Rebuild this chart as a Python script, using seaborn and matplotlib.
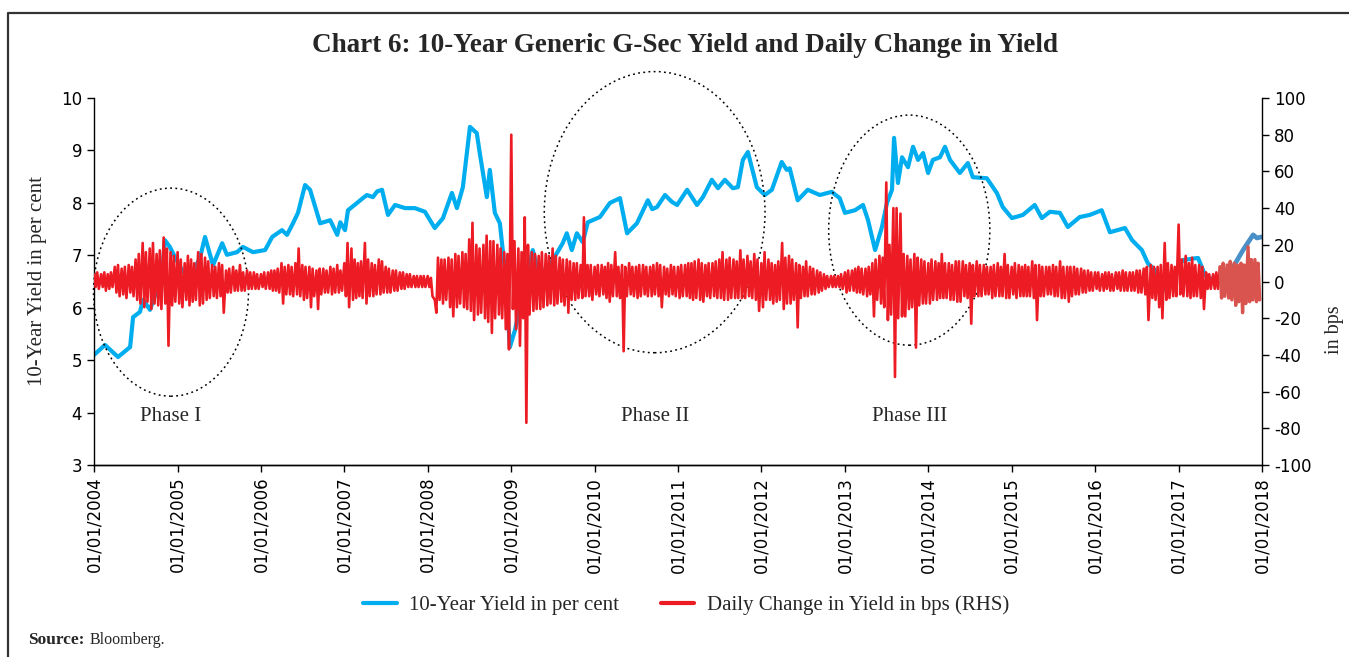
import numpy as np
import pandas as pd
import matplotlib
matplotlib.use('Agg')
import matplotlib.pyplot as plt
import matplotlib.dates as mdates
from matplotlib.patches import Ellipse
from matplotlib.lines import Line2D
import seaborn as sns

sns.set_style('white')
plt.rcParams['font.family'] = ['Liberation Serif', 'DejaVu Serif']
plt.rcParams['axes.unicode_minus'] = False

# 10-year yield (per cent)
yield_dates = [
    '2004-01-01', '2004-02-18', '2004-04-15', '2004-06-07', '2004-06-20', '2004-07-20',
    '2004-08-03', '2004-09-02', '2004-10-03', '2004-10-29', '2004-11-06', '2004-11-28',
    '2004-12-20', '2005-01-25', '2005-03-10', '2005-04-10', '2005-05-01', '2005-06-05',
    '2005-07-15', '2005-08-05', '2005-09-18', '2005-10-14', '2005-11-27', '2006-01-19',
    '2006-02-19', '2006-04-03', '2006-04-25', '2006-05-21', '2006-06-12', '2006-07-13',
    '2006-08-04', '2006-09-17', '2006-10-31', '2006-12-01', '2006-12-14', '2007-01-04',
    '2007-01-17', '2007-02-26', '2007-03-20', '2007-04-10', '2007-05-06', '2007-05-25',
    '2007-06-15', '2007-07-11', '2007-08-11', '2007-09-24', '2007-11-06', '2007-12-20',
    '2008-02-01', '2008-03-08', '2008-04-16', '2008-05-08', '2008-06-03', '2008-07-04',
    '2008-08-03', '2008-08-16', '2008-09-16', '2008-09-29', '2008-10-21', '2008-11-12',
    '2008-12-04', '2008-12-26', '2009-01-17', '2009-02-08', '2009-03-10', '2009-04-05',
    '2009-05-06', '2009-06-05', '2009-07-10', '2009-08-14', '2009-09-01', '2009-09-23',
    '2009-10-15', '2009-11-10', '2009-12-02', '2010-01-24', '2010-03-09', '2010-04-22',
    '2010-05-23', '2010-07-05', '2010-08-22', '2010-09-10', '2010-10-01', '2010-11-05',
    '2010-12-05', '2010-12-28', '2011-02-10', '2011-03-25', '2011-04-20', '2011-05-29',
    '2011-06-25', '2011-07-25', '2011-08-29', '2011-09-20', '2011-10-12', '2011-11-03',
    '2011-12-12', '2012-01-16', '2012-02-16', '2012-03-30', '2012-04-21', '2012-05-04',
    '2012-06-08', '2012-07-22', '2012-09-13', '2012-11-04', '2012-12-09', '2013-01-01',
    '2013-02-14', '2013-03-21', '2013-04-12', '2013-05-13', '2013-06-12', '2013-07-04',
    '2013-07-26', '2013-08-04', '2013-08-21', '2013-09-08', '2013-10-04', '2013-10-26',
    '2013-11-17', '2013-12-09', '2013-12-31', '2014-01-21', '2014-02-21', '2014-03-15',
    '2014-04-06', '2014-05-19', '2014-06-23', '2014-07-15', '2014-09-14', '2014-10-28',
    '2014-11-23', '2015-01-02', '2015-02-19', '2015-04-12', '2015-05-13', '2015-06-17',
    '2015-07-31', '2015-09-04', '2015-10-26', '2015-12-09', '2016-01-30', '2016-03-06',
    '2016-05-11', '2016-06-11', '2016-07-24', '2016-08-19', '2016-09-19', '2016-11-02',
    '2016-11-24', '2017-01-20', '2017-03-27', '2017-04-27', '2017-06-01', '2017-07-10',
    '2017-08-27', '2017-10-10', '2017-11-23', '2017-12-10', '2017-12-29',
]
yield_vals = [
    5.10, 5.29, 5.06, 5.25, 5.82, 5.92,
    6.15, 5.96, 6.34, 6.85, 7.29, 7.16,
    6.97, 6.68, 6.68, 6.97, 7.35, 6.81,
    7.23, 7.01, 7.06, 7.16, 7.06, 7.10,
    7.35, 7.48, 7.39, 7.61, 7.81, 8.34,
    8.25, 7.61, 7.67, 7.39, 7.63, 7.48,
    7.86, 8.00, 8.08, 8.15, 8.11, 8.22,
    8.25, 7.77, 7.96, 7.90, 7.90, 7.83,
    7.52, 7.71, 8.19, 7.90, 8.30, 9.45,
    9.33, 8.95, 8.11, 8.63, 7.81, 7.61,
    6.72, 5.25, 5.57, 6.01, 6.58, 7.10,
    6.58, 6.77, 6.97, 7.23, 7.42, 7.10,
    7.42, 7.25, 7.63, 7.73, 8.00, 8.09,
    7.42, 7.61, 8.05, 7.88, 7.92, 8.15,
    8.02, 7.96, 8.25, 7.96, 8.11, 8.44,
    8.28, 8.44, 8.28, 8.30, 8.82, 8.97,
    8.30, 8.15, 8.25, 8.78, 8.63, 8.66,
    8.05, 8.25, 8.15, 8.21, 8.09, 7.81,
    7.86, 7.96, 7.67, 7.10, 7.54, 8.00,
    8.25, 9.24, 8.38, 8.87, 8.68, 9.07,
    8.82, 8.95, 8.57, 8.82, 8.87, 9.07,
    8.82, 8.57, 8.76, 8.49, 8.47, 8.19,
    7.92, 7.71, 7.77, 7.96, 7.71, 7.83,
    7.81, 7.54, 7.73, 7.77, 7.86, 7.44,
    7.52, 7.29, 7.10, 6.85, 6.72, 6.34,
    6.49, 6.91, 6.95, 6.62, 6.53, 6.45,
    6.77, 7.10, 7.39, 7.33, 7.35,
]

# daily change in yield (bps): highest and lowest reading in each half-month
hi_2004 = [4, 5, 4, 5, 4, 5, 8, 9, 7, 8, 9, 8, 12, 15, 21, 16, 18, 21, 15, 17, 24, 18, 16, 14]
lo_2004 = [-3, -4, -3, -5, -4, -3, -6, -8, -7, -9, -6, -8, -10, -12, -14, -11, -15, -12, -13, -15, -12, -35, -13, -11]
hi_2005 = [16, 12, 10, 14, 12, 10, 16, 15, 13, 11, 9, 8, 10, 9, 6, 7, 8, 6, 9, 5, 6, 5, 5, 4]
lo_2005 = [-12, -14, -10, -13, -11, -10, -13, -12, -10, -9, -8, -9, -8, -17, -6, -6, -5, -5, -5, -5, -4, -4, -4, -4]
hi_2006 = [4, 5, 5, 6, 6, 7, 10, 8, 9, 8, 10, 18, 9, 8, 8, 7, 6, 7, 7, 6, 8, 7, 9, 6]
lo_2006 = [-3, -4, -4, -5, -5, -6, -12, -7, -7, -8, -7, -8, -10, -9, -14, -8, -15, -7, -6, -6, -7, -6, -6, -5]
hi_2007 = [10, 21, 18, 12, 10, 11, 21, 12, 10, 9, 12, 11, 8, 7, 6, 6, 5, 5, 4, 4, 3, 3, 3, 3]
lo_2007 = [-8, -14, -10, -9, -8, -9, -12, -8, -8, -7, -7, -6, -6, -6, -5, -5, -4, -4, -3, -3, -3, -3, -3, -3]
hi_2008 = [3, 2, -10, 13, 12, 12, 13, 12, 15, 14, 16, 15, 23, 32, 20, 18, 20, 25, 22, 22, 20, 18, 16, 15]
lo_2008 = [-3, -8, -17, -10, -12, -10, -14, -19, -14, -12, -14, -15, -16, -21, -18, -17, -20, -22, -28, -20, -18, -20, -26, -37]
hi_2009 = [80, 22, 18, 16, 35, 20, 16, 15, 14, 16, 15, 14, 18, 14, 13, 12, 12, 11, 10, 10, 9, 35, 9, 9]
lo_2009 = [-15, -26, -35, -20, -77, -18, -16, -15, -15, -14, -13, -12, -13, -12, -11, -13, -17, -10, -10, -9, -9, -8, -8, -10]
hi_2010 = [8, 9, 9, 8, 10, 9, 16, 8, 9, 8, 10, 8, 8, 9, 9, 8, 8, 9, 10, 9, 8, 7, 9, 8]
lo_2010 = [-7, -8, -7, -9, -11, -8, -8, -9, -38, -8, -7, -8, -9, -8, -7, -8, -8, -7, -8, -14, -7, -8, -7, -8]
hi_2011 = [8, 9, 9, 10, 10, 11, 12, 10, 9, 10, 10, 11, 12, 16, 12, 13, 12, 11, 17, 12, 14, 11, 15, 12]
lo_2011 = [-9, -8, -8, -9, -10, -9, -10, -11, -8, -9, -8, -9, -9, -10, -10, -9, -9, -9, -9, -9, -8, -9, -10, -16]
hi_2012 = [10, 16, 12, 10, 9, 11, 21, 13, 14, 12, 10, 9, 8, 11, 8, 7, 6, 5, 4, 3, 3, 3, 3, 4]
lo_2012 = [-14, -10, -10, -12, -11, -10, -15, -12, -12, -10, -25, -9, -8, -8, -7, -7, -6, -5, -4, -3, -3, -3, -3, -4]
hi_2013 = [5, 6, 6, 7, 8, 7, 7, 8, 10, 12, 14, 13, 54, 20, 40, 40, 37, 15, 14, 12, 15, 13, 12, 11]
lo_2013 = [-6, -5, -5, -6, -6, -7, -8, -7, -19, -10, -12, -14, -21, -18, -52, -20, -19, -19, -15, -14, -36, -13, -12, -12]
hi_2014 = [10, 12, 11, 10, 15, 10, 10, 9, 11, 11, 11, 9, 10, 9, 11, 9, 9, 8, 8, 9, 10, 8, 15, 9]
lo_2014 = [-12, -10, -10, -9, -9, -9, -10, -10, -11, -11, -8, -9, -23, -8, -8, -8, -7, -7, -9, -8, -8, -8, -9, -9]
hi_2015 = [8, 10, 9, 8, 9, 8, 11, 9, 9, 8, 8, 8, 9, 8, 11, 8, 8, 8, 8, 7, 7, 6, 6, 5]
lo_2015 = [-7, -9, -8, -8, -8, -8, -9, -21, -8, -8, -7, -7, -8, -8, -9, -9, -11, -8, -7, -7, -6, -6, -5, -5]
hi_2016 = [5, 5, 4, 5, 5, 4, 5, 5, 6, 5, 5, 5, 6, 6, 7, 8, 9, 8, 8, 9, 21, 10, 9, 8]
lo_2016 = [-4, -5, -5, -4, -5, -5, -4, -5, -5, -5, -5, -5, -6, -6, -7, -21, -9, -10, -14, -20, -10, -9, -8, -8]
hi_2017 = [31, 12, 14, 10, 13, 9, 9, 8, 5, 4, 4, 5, 8, 10, 9, 11, 10, 9, 10, 9, 19, 12, 12, 10]
lo_2017 = [-7, -8, -8, -9, -8, -8, -9, -15, -4, -4, -4, -4, -9, -8, -9, -10, -13, -11, -17, -12, -11, -10, -11, -10]

highs = (hi_2004 + hi_2005 + hi_2006 + hi_2007 + hi_2008 + hi_2009 + hi_2010
         + hi_2011 + hi_2012 + hi_2013 + hi_2014 + hi_2015 + hi_2016 + hi_2017)
lows = (lo_2004 + lo_2005 + lo_2006 + lo_2007 + lo_2008 + lo_2009 + lo_2010
        + lo_2011 + lo_2012 + lo_2013 + lo_2014 + lo_2015 + lo_2016 + lo_2017)
half_months = pd.date_range('2004-01-01', periods=len(highs), freq='SMS')

# zigzag: the high at the start of each half-month, the low a week later
chg = pd.concat([
    pd.DataFrame({'date': half_months, 'value': highs}),
    pd.DataFrame({'date': half_months + pd.Timedelta(days=7), 'value': lows}),
]).sort_values('date').reset_index(drop=True)

yld = pd.DataFrame({'date': pd.to_datetime(yield_dates), 'value': yield_vals})

# last few months are drawn in a slightly different shade in the original
red_split = pd.Timestamp('2017-07-01')

BLUE = '#00aeef'
BLUE2 = '#4a90c8'
RED = '#ed1c24'
RED2 = '#d9534f'

fig = plt.figure(figsize=(13.49, 6.57), dpi=100)
ax = fig.add_axes([0.0697, 0.2922, 0.8658, 0.5586])
ax2 = ax.twinx()

sns.lineplot(data=yld[yld['date'] <= pd.Timestamp('2017-08-27')], x='date', y='value',
             ax=ax, color=BLUE, lw=3.0)
sns.lineplot(data=yld[yld['date'] >= pd.Timestamp('2017-07-10')], x='date', y='value',
             ax=ax, color=BLUE2, lw=3.4)
sns.lineplot(data=chg[chg['date'] <= red_split], x='date', y='value', ax=ax2, color=RED, lw=1.9)
sns.lineplot(data=chg[chg['date'] >= red_split], x='date', y='value', ax=ax2, color=RED2, lw=2.4)

ax.set_xlim(pd.Timestamp('2004-01-01'), pd.Timestamp('2018-01-01'))
ax.set_ylim(3, 10)
ax2.set_ylim(-100, 100)
ax.set_yticks(range(3, 11))
ax2.set_yticks(range(-100, 101, 20))
ax.xaxis.set_major_locator(mdates.YearLocator())
ax.xaxis.set_major_formatter(mdates.DateFormatter('%d/%m/%Y'))
ax.set_xlabel('')
ax.set_ylabel('')
ax2.set_ylabel('')

for a in (ax, ax2):
    a.spines['top'].set_visible(False)
    for s in ('left', 'right', 'bottom'):
        a.spines[s].set_color('black')
        a.spines[s].set_linewidth(1.0)
    a.tick_params(direction='out', length=5, width=1, color='black',
                  labelsize=12, labelfontfamily='DejaVu Sans', labelcolor='black')
ax.spines['right'].set_visible(False)
ax2.spines['left'].set_visible(False)
ax.tick_params(axis='y', left=True)
ax.tick_params(axis='x', bottom=True, labelrotation=90)
ax2.tick_params(axis='y', right=True)

# dotted ellipses marking the three phases
phases = [('Phase I', 0.0659, 0.471, 0.1327, 0.567),
          ('Phase II', 0.480, 0.689, 0.189, 0.766),
          ('Phase III', 0.698, 0.640, 0.138, 0.627)]
for name, cx, cy, w, h in phases:
    ax2.add_patch(Ellipse((cx, cy), w, h, transform=ax2.transAxes, fill=False,
                          ec='black', lw=1.1, ls=(0, (1.2, 2.2)), clip_on=False))
    ax2.text(cx, 0.1335, name, transform=ax2.transAxes, ha='center', va='center', fontsize=15)

fig.text(0.508, 0.9315, 'Chart 6: 10-Year Generic G-Sec Yield and Daily Change in Yield',
         ha='center', va='center', fontsize=19.5, fontweight='bold')
fig.text(0.028, 0.572, '10-Year Yield in per cent', rotation=90, ha='center', va='center', fontsize=15)
fig.text(0.9896, 0.498, 'in bps', rotation=90, ha='center', va='center', fontsize=14.5)

handles = [Line2D([], [], color=BLUE, lw=3), Line2D([], [], color=RED, lw=3)]
fig.legend(handles, ['10-Year Yield in per cent', 'Daily Change in Yield in bps (RHS)'],
           loc='center', bbox_to_anchor=(0.5085, 0.079), ncol=2, frameon=False,
           fontsize=15, handlelength=1.6, columnspacing=2.0, handletextpad=0.6)

fig.text(0.0208, 0.026, 'Source:', fontsize=12.5, fontweight='bold', ha='left', va='center')
fig.text(0.0665, 0.026, 'Bloomberg.', fontsize=11.5, ha='left', va='center')

# frame around the chart (left and top edges)
fx = 8 / 1349
fy = 1 - 13 / 657
fig.add_artist(Line2D([fx, fx, 1.0], [0.0, fy, fy], transform=fig.transFigure,
                      color='#333333', lw=1.6))

fig.savefig('out.png', dpi=100)
